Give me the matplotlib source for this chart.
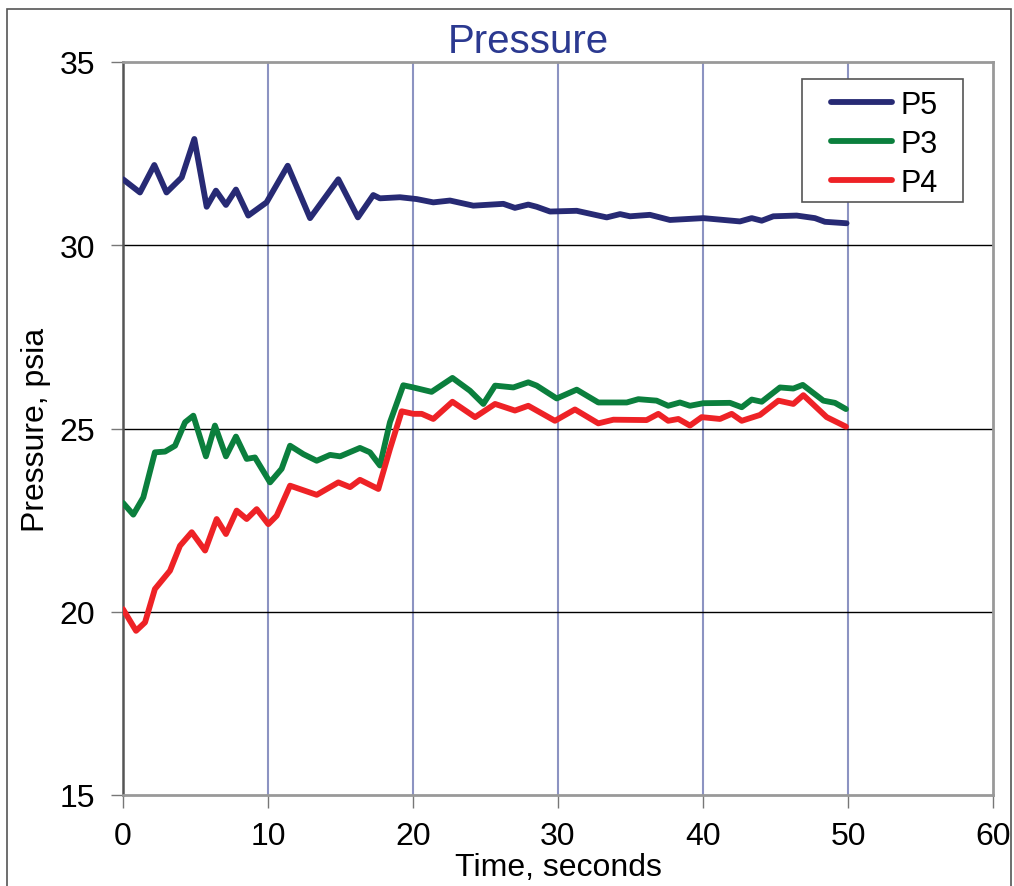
import matplotlib.pyplot as plt
from matplotlib.patches import Rectangle

plt.rcParams['font.family'] = ['Liberation Sans', 'DejaVu Sans']

# P5 (blue)
p5_t = [0, 1.17, 2.16, 3.0, 4.05, 4.92, 5.77, 6.41, 7.1, 7.79, 8.64, 9.9, 11.36, 12.9,
        14.85, 16.2, 17.26, 17.72, 19.1, 20.25, 21.4, 22.55, 24.16, 26.23, 27.03, 27.95,
        28.53, 29.45, 31.29, 33.36, 34.28, 34.97, 36.34, 37.72, 40.02, 42.55, 43.36, 44.05,
        44.85, 46.46, 47.72, 48.41, 49.9]
p5_v = [31.8, 31.44, 32.19, 31.44, 31.85, 32.9, 31.05, 31.49, 31.1, 31.52, 30.81, 31.17,
        32.17, 30.74, 31.8, 30.76, 31.37, 31.28, 31.31, 31.26, 31.17, 31.22, 31.08, 31.13,
        31.02, 31.11, 31.05, 30.92, 30.94, 30.76, 30.85, 30.79, 30.83, 30.69, 30.74, 30.65,
        30.74, 30.67, 30.79, 30.81, 30.74, 30.64, 30.6]

# P3 (green)
p3_t = [0, 0.71, 1.4, 2.2, 2.9, 3.59, 4.28, 4.85, 5.72, 6.34, 7.1, 7.79, 8.53, 9.1, 10.14,
        10.94, 11.52, 12.44, 13.36, 14.28, 14.97, 16.34, 17.03, 17.72, 18.41, 19.33, 20.02,
        21.28, 22.72, 23.93, 24.85, 25.66, 26.92, 27.95, 28.53, 29.91, 31.29, 32.78, 34.74,
        35.54, 36.8, 37.6, 38.41, 39.1, 40.02, 41.86, 42.67, 43.36, 44.05, 45.31, 46.23,
        46.88, 48.3, 49.1, 49.86]
p3_v = [22.97, 22.65, 23.12, 24.35, 24.37, 24.53, 25.17, 25.35, 24.24, 25.08, 24.24, 24.78,
        24.17, 24.21, 23.53, 23.9, 24.53, 24.3, 24.12, 24.28, 24.24, 24.47, 24.35, 23.99,
        25.17, 26.18, 26.12, 26.0, 26.38, 26.03, 25.67, 26.17, 26.12, 26.26, 26.17, 25.82,
        26.06, 25.71, 25.71, 25.8, 25.76, 25.62, 25.71, 25.62, 25.69, 25.7, 25.58, 25.79,
        25.73, 26.12, 26.09, 26.19, 25.76, 25.7, 25.53]

# P4 (red)
p4_t = [0, 0.9, 1.52, 2.2, 3.24, 3.93, 4.74, 5.66, 6.46, 7.1, 7.84, 8.53, 9.22, 10.02, 10.6,
        11.52, 13.36, 14.85, 15.66, 16.34, 17.61, 18.41, 19.22, 20.02, 20.6, 21.4, 22.72,
        24.28, 25.66, 27.03, 27.95, 29.79, 31.17, 32.78, 33.82, 36.11, 36.92, 37.6, 38.3,
        39.1, 39.91, 41.17, 41.98, 42.67, 43.93, 45.2, 46.23, 46.92, 48.53, 49.86]
p4_v = [20.07, 19.48, 19.71, 20.62, 21.12, 21.8, 22.17, 21.67, 22.53, 22.12, 22.76, 22.53,
        22.8, 22.39, 22.62, 23.44, 23.19, 23.53, 23.4, 23.6, 23.35, 24.44, 25.47, 25.4,
        25.4, 25.26, 25.73, 25.31, 25.67, 25.49, 25.62, 25.21, 25.52, 25.14, 25.24, 25.23,
        25.4, 25.21, 25.26, 25.08, 25.31, 25.26, 25.4, 25.21, 25.37, 25.76, 25.67, 25.91,
        25.31, 25.05]

W, H = 1014, 887
fig = plt.figure(figsize=(W / 100, H / 100), dpi=100)
ax = fig.add_axes([123 / W, 1 - 796 / H, 870 / W, 733 / H])

# outer frame
fig.patches.append(Rectangle((7 / W, -0.05), (1011 - 7) / W, 1.05 - 10 / H,
                             transform=fig.transFigure, fill=False,
                             edgecolor='#555555', linewidth=1.2))

for x in range(10, 60, 10):
    ax.axvline(x, color='#8c93c2', linewidth=1.5, zorder=1)
for y in (20, 25, 30):
    ax.axhline(y, color='black', linewidth=1.0, zorder=1)

lw = 4.2
ax.plot(p5_t, p5_v, color='#272a74', lw=lw, label='P5', solid_joinstyle='round',
        solid_capstyle='round', zorder=3)
ax.plot(p3_t, p3_v, color='#0b7f3d', lw=lw, label='P3', solid_joinstyle='round',
        solid_capstyle='round', zorder=3)
ax.plot(p4_t, p4_v, color='#ee2226', lw=lw, label='P4', solid_joinstyle='round',
        solid_capstyle='round', zorder=3)

ax.set_xlim(0, 60)
ax.set_ylim(15, 35)
ax.set_xticks(range(0, 61, 10))
ax.set_yticks(range(15, 36, 5))
ax.tick_params(labelsize=23, direction='out', length=9, width=1, color='#777777')
ax.tick_params(axis='x', pad=10)
ax.tick_params(axis='y', pad=11)

ax.spines['left'].set_color('#555555')
ax.spines['left'].set_linewidth(1.8)
for s in ('bottom', 'top', 'right'):
    ax.spines[s].set_color('#999999')
    ax.spines[s].set_linewidth(2)

ax.set_xlabel('Time, seconds', fontsize=23, labelpad=0.5)
ax.set_ylabel('Pressure, psia', fontsize=23, labelpad=6)
fig.text(528 / W, 1 - 42 / H, 'Pressure', fontsize=29, color='#2b3990',
         ha='center', va='center')

# legend box drawn separately so it can be wider than its contents
box = Rectangle((802 / W, 1 - 203 / H), 161 / W, 123 / H,
                transform=fig.transFigure, facecolor='white',
                edgecolor='#555555', linewidth=1.2, zorder=4, clip_on=False)
ax.add_artist(box)
leg = ax.legend(loc='upper left', bbox_to_anchor=(820 / W, 1 - 80 / H),
                bbox_transform=fig.transFigure, fontsize=22, handlelength=2.0,
                handletextpad=0.3, labelspacing=0.3, borderpad=0.35, borderaxespad=0,
                frameon=False)
leg.set_zorder(5)

fig.savefig('out.png', dpi=100)
